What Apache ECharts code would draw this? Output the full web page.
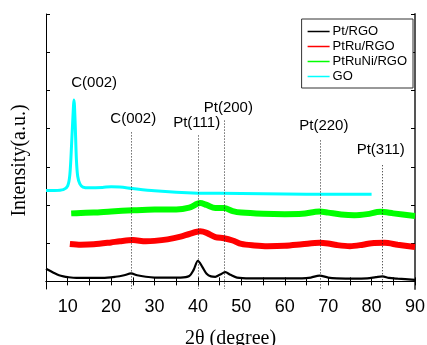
<!DOCTYPE html>
<html>
<head>
<meta charset="utf-8">
<script src="https://cdn.jsdelivr.net/npm/echarts@6/dist/echarts.min.js"></script>
<style>
  html, body { margin: 0; padding: 0; background: #fff; }
  #chart { width: 427px; height: 345px; }
</style>
</head>
<body>
<div id="chart"></div>
<script>
// XRD patterns, intensity in arbitrary (tick) units, offset per sample
const ptRgo = [
  [5, 0.33], [6, 0.27], [7, 0.21], [8, 0.16], [9, 0.13], [10, 0.11], [12, 0.09], [15, 0.09],
  [18, 0.09], [21, 0.12], [23, 0.16], [24.6, 0.21], [26, 0.16], [28, 0.12], [30, 0.1], [33, 0.1],
  [36, 0.1], [38, 0.14], [39, 0.3], [40, 0.54], [41, 0.38], [42, 0.2], [43, 0.13], [44, 0.12],
  [45, 0.17], [46.3, 0.24], [47.5, 0.17], [49, 0.1], [52, 0.08], [56, 0.08], [60, 0.08], [64, 0.08],
  [66, 0.1], [68, 0.15], [70, 0.1], [72, 0.08], [76, 0.07], [79, 0.08], [81, 0.11], [82.5, 0.13],
  [84, 0.09], [86, 0.07], [90, 0.04]
];
const ptRuRgo = [
  [10.5, 0.98], [13, 0.96], [16, 0.97], [20, 1.02], [22, 1.05], [25, 1.08], [28, 1.05], [30, 1.06],
  [33, 1.1], [36, 1.17], [38, 1.24], [40.5, 1.31], [42, 1.27], [44, 1.16], [46, 1.13], [48, 1.07],
  [50, 0.98], [53, 0.94], [56, 0.92], [60, 0.93], [64, 0.97], [68, 1.01], [70, 0.99], [72, 0.95],
  [75, 0.92], [78, 0.96], [80, 1.0], [83, 1.01], [86, 0.96], [90, 0.9]
];
const ptRuNiRgo = [
  [10.8, 1.78], [13, 1.79], [16, 1.8], [20, 1.83], [25, 1.86], [30, 1.88], [35, 1.88], [38, 1.93],
  [40.5, 2.05], [42, 2.0], [44, 1.92], [46, 1.92], [48, 1.84], [50, 1.8], [55, 1.77], [60, 1.76],
  [64, 1.77], [68, 1.83], [70, 1.8], [73, 1.75], [76, 1.73], [79, 1.76], [82, 1.82], [85, 1.78],
  [90, 1.71]
];
const go = [
  [5, 2.38], [7, 2.38], [9, 2.4], [10, 2.5], [10.5, 2.8], [10.9, 3.6], [11.2, 4.3], [11.45, 4.75],
  [11.7, 4.2], [12, 3.2], [12.3, 2.75], [12.8, 2.55], [13.5, 2.47], [15, 2.45], [18, 2.46],
  [20, 2.48], [22, 2.47], [25, 2.43], [30, 2.37], [35, 2.33], [40, 2.31], [50, 2.3], [60, 2.29],
  [70, 2.28], [80, 2.28]
];

// reflection markers: dotted guide lines and labels
const guideX = [24.6, 40.1, 46.1, 68.2, 82.4];
const guideTop = [3.9, 3.82, 4.21, 3.69, 3.04];
const peakLabels = ['C(002)', 'C(002)', 'Pt(111)', 'Pt(200)', 'Pt(220)', 'Pt(311)'];
const peakLabelX = [16.1, 25.1, 39.7, 47, 69, 82.1];
const peakLabelY = [5.21, 4.26, 4.14, 4.54, 4.08, 3.45];

const xTicks = [5, 90, 5];
const yTickValues = [0, 1, 2, 3, 4, 5, 6, 7];

const chart = echarts.init(document.getElementById('chart'));

const sans = 'Liberation Sans';
const serif = 'Liberation Serif';

function lineSeries(name, data, color, width) {
  return {
    name,
    type: 'line',
    data,
    showSymbol: false,
    smooth: 0.3,
    lineStyle: { color, width },
    itemStyle: { color },
    xAxisIndex: 0,
    yAxisIndex: 0
  };
}

const blackSeries = lineSeries('Pt/RGO', ptRgo, '#000000', 2.2);
blackSeries.markLine = {
  silent: true,
  symbol: 'none',
  label: { show: false },
  lineStyle: { color: '#222', type: [1, 2], width: 1 },
  data: guideX.map((x, i) => [{ coord: [x, guideTop[i]] }, { coord: [x, -0.2] }])
};

const markerSeries = {
  type: 'scatter',
  symbolSize: 0,
  silent: true,
  itemStyle: { opacity: 1 },
  data: peakLabels.map((t, i) => ({ value: [peakLabelX[i], peakLabelY[i]], name: t })),
  label: {
    show: true,
    position: 'inside',
    formatter: (p) => p.name,
    fontFamily: sans,
    fontSize: 15,
    color: '#000',
    opacity: 1
  }
};

const frameTick = { show: true, inside: true, length: 4, lineStyle: { color: '#000', width: 1 } };
const frameLine = { show: true, lineStyle: { color: '#000', width: 1 } };

chart.setOption({
  animation: false,
  grid: { left: 46, right: 12, top: 14, bottom: 56, outerBoundsMode: 'none', containLabel: false },
  legend: {
    orient: 'vertical',
    right: 14,
    top: 19,
    padding: [6, 6, 5, 6],
    itemGap: 2,
    itemWidth: 22,
    itemHeight: 1.5,
    icon: 'rect',
    borderColor: '#333',
    borderWidth: 1,
    backgroundColor: '#fff',
    textStyle: { fontFamily: sans, fontSize: 13, color: '#000', padding: [0, 0, 0, -2] },
    data: ['Pt/RGO', 'PtRu/RGO', 'PtRuNi/RGO', 'GO']
  },
  xAxis: [
    {
      type: 'value',
      min: xTicks[0],
      max: xTicks[1],
      interval: xTicks[2],
      name: '2θ (degree)',
      nameLocation: 'middle',
      nameGap: 40,
      nameTextStyle: { fontFamily: serif, fontSize: 20, color: '#000' },
      axisLine: frameLine,
      axisTick: frameTick,
      splitLine: { show: false },
      axisLabel: {
        margin: 9,
        fontFamily: sans,
        fontSize: 18,
        color: '#000',
        formatter: (v) => (v % 10 === 0 ? String(v) : '')
      }
    },
    {
      type: 'value',
      position: 'top',
      min: xTicks[0],
      max: xTicks[1],
      interval: xTicks[2],
      axisLine: frameLine,
      axisTick: frameTick,
      axisLabel: { show: false },
      splitLine: { show: false }
    }
  ],
  yAxis: [
    {
      type: 'value',
      min: -0.2,
      max: 7,
      name: 'Intensity(a.u.)',
      nameLocation: 'middle',
      nameGap: 16,
      nameTextStyle: { fontFamily: serif, fontSize: 20, color: '#000', padding: [0, 0, 0, -18] },
      axisLine: frameLine,
      axisTick: Object.assign({}, frameTick, { customValues: yTickValues }),
      axisLabel: { show: false },
      splitLine: { show: false }
    },
    {
      type: 'value',
      position: 'right',
      min: -0.2,
      max: 7,
      axisLine: { show: true, lineStyle: { color: '#555', width: 2 } },
      axisTick: Object.assign({}, frameTick, { customValues: yTickValues }),
      axisLabel: { show: false },
      splitLine: { show: false }
    }
  ],
  series: [
    blackSeries,
    lineSeries('PtRu/RGO', ptRuRgo, '#ff0000', 6),
    lineSeries('PtRuNi/RGO', ptRuNiRgo, '#00ff00', 6),
    lineSeries('GO', go, '#00ffff', 3),
    markerSeries
  ]
});
</script>
</body>
</html>
